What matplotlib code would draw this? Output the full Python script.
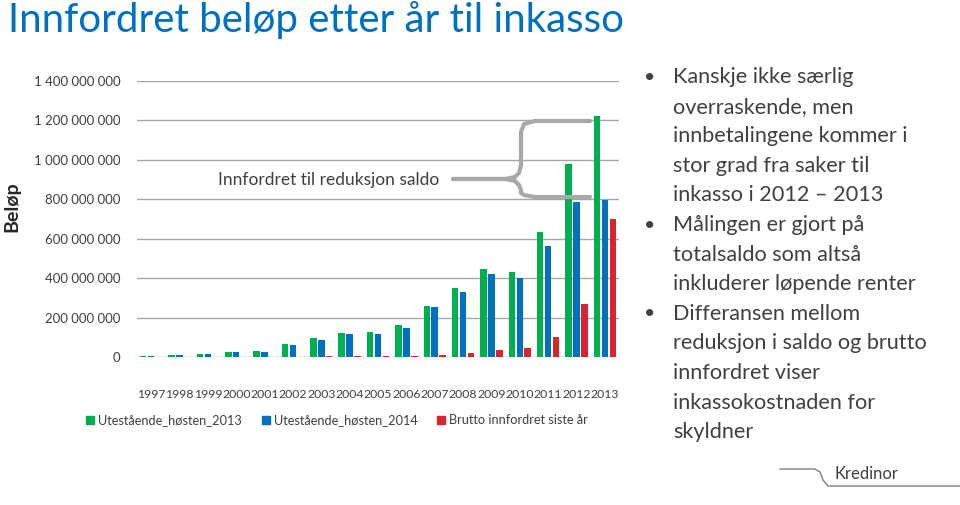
import matplotlib.pyplot as plt
import numpy as np

years = ["1997", "1998", "1999", "2000", "2001", "2002", "2003", "2004", "2005",
         "2006", "2007", "2008", "2009", "2010", "2011", "2012", "2013"]
ute_2013 = [5, 10, 14, 25, 30, 66, 98, 123, 128, 160, 258, 350, 448, 432, 635, 977, 1223]
ute_2014 = [5, 10, 15, 25, 24, 61, 86, 118, 118, 149, 252, 329, 422, 402, 563, 784, 796]
brutto = [0, 0, 0, 0, 0, 0, 3, 4, 4, 5, 10, 19, 35, 46, 103, 269, 698]
series_names = ["Utestående_høsten_2013", "Utestående_høsten_2014", "Brutto innfordret siste år"]
yticks = [0, 200e6, 400e6, 600e6, 800e6, 1000e6, 1200e6, 1400e6]

bullets = [
    ["Kanskje ikke særlig", "overraskende, men", "innbetalingene kommer i",
     "stor grad fra saker til", "inkasso i 2012 \u2013 2013"],
    ["Målingen er gjort på", "totalsaldo som altså", "inkluderer løpende renter"],
    ["Differansen mellom", "reduksjon i saldo og brutto", "innfordret viser",
     "inkassokostnaden for", "skyldner"],
]

GREEN, BLUE, RED = "#00B050", "#0070C0", "#D9262E"
TXT = "#404040"
W, H = 960, 505
plt.rcParams['font.family'] = ['Lato', 'DejaVu Sans']


def fx(x):
    return x / W


def fy(y):
    return 1 - y / H


fig = plt.figure(figsize=(9.6, 5.05), dpi=100)
ax = fig.add_axes([fx(137), fy(357), fx(619) - fx(137), fy(80.7) - fy(357)])

x = np.arange(len(years))
w = 0.23
ax.bar(x - 0.28, np.array(ute_2013) * 1e6, w, color=GREEN, label=series_names[0], zorder=3)
ax.bar(x, np.array(ute_2014) * 1e6, w, color=BLUE, label=series_names[1], zorder=3)
ax.bar(x + 0.28, np.array(brutto) * 1e6, w, color=RED, label=series_names[2], zorder=3)

ax.set_xlim(-0.5, len(years) - 0.5)
ax.set_ylim(0, 1.4e9)
ax.set_yticks(yticks)
ax.set_yticklabels(["0" if v == 0 else f"{int(v):,}".replace(",", " ") for v in yticks],
                   fontsize=9.5, color=TXT)
ax.set_xticks(x)
ax.set_xticklabels(years, fontsize=8.8, color=TXT)
ax.tick_params(length=0)
ax.tick_params(axis='y', pad=12)
ax.tick_params(axis='x', pad=23)
ax.grid(axis='y', color="#A6A6A6", lw=1, zorder=0)
for s in ax.spines.values():
    s.set_visible(False)

# legend
leg_items = [(90, GREEN, series_names[0]), (266, BLUE, series_names[1]), (441, RED, series_names[2])]
for lx, c, name in leg_items:
    fig.patches.append(plt.Rectangle((fx(lx - 4), fy(424)), 8 / W, 8 / H, color=c,
                                     transform=fig.transFigure))
    fig.text(fx(lx + 8), fy(420), name, fontsize=9.2, color=TXT, va='center')

# annotation with brace
fig.text(fx(218), fy(180), "Innfordret til reduksjon saldo", fontsize=12.5, color=TXT, va='center')
bx = [453, 505, 515, 519, 521, 521, 524, 535, 590]
by_mid = [179, 179, 177, 173, 165, 132, 124, 121, 121]
brace_kw = dict(color="#A8A8A8", lw=3, solid_capstyle='round', transform=fig.transFigure)
fig.add_artist(plt.Line2D([fx(v) for v in bx], [fy(v) for v in by_mid], **brace_kw))
by_low = [179, 179, 181, 185, 190, 193, 195, 197, 197]
fig.add_artist(plt.Line2D([fx(v) for v in bx], [fy(v) for v in by_low], **brace_kw))

# title and side label
fig.text(fx(8), fy(20), "Innfordret beløp etter år til inkasso", fontsize=29,
         color="#0070C0", va='center')
fig.text(fx(12), fy(207), "Beløp", fontsize=14, fontweight='bold', color="#262626",
         rotation=90, ha='center', va='center')

# bullet text
line_y = 77
for block in bullets:
    fig.text(fx(650), fy(line_y), "\u2022", fontsize=14, color=TXT, va='center', ha='center')
    for line in block:
        fig.text(fx(673), fy(line_y), line, fontsize=15.6, color=TXT, va='center')
        line_y += 29.6

# logo
fig.add_artist(plt.Line2D([fx(v) for v in [780, 815, 820, 823, 828, 960]],
                          [fy(v) for v in [469, 469, 472, 480, 486, 486]],
                          color="#808080", lw=1, transform=fig.transFigure))
fig.text(fx(834), fy(474), "Kredinor", fontsize=12, color="#404040", va='center')

fig.savefig("out.png", dpi=100)
